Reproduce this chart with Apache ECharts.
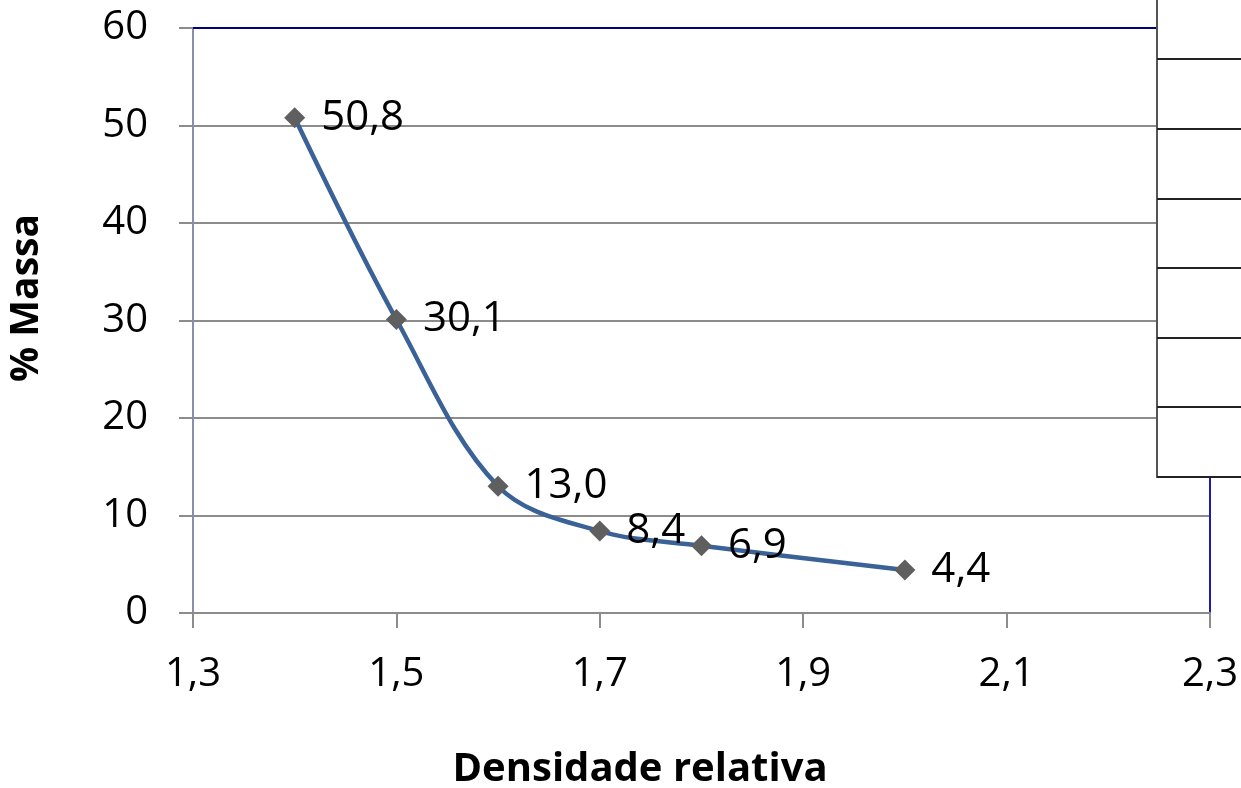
<!DOCTYPE html>
<html>
<head>
<meta charset="utf-8">
<script src="https://cdn.jsdelivr.net/npm/echarts@6/dist/echarts.min.js"></script>
<style>
  html, body { margin: 0; padding: 0; background: #fff; }
  #chart { width: 1241px; height: 788px; }
</style>
</head>
<body>
<div id="chart"></div>
<script>
// densidade relativa vs % massa
var densidade = [1.4, 1.5, 1.6, 1.7, 1.8, 2.0];
var massa = [50.8, 30.1, 13.0, 8.4, 6.9, 4.4];

var pontos = [];
for (var i = 0; i < densidade.length; i++) {
  pontos.push([densidade[i], massa[i]]);
}

function virgula(v, casas) {
  return v.toFixed(casas).replace('.', ',');
}

var chart = echarts.init(document.getElementById('chart'));
var fonte = '"Open Sans", "Noto Sans", sans-serif';

// caixa cortada no canto direito (tabela de legenda)
var linhasCaixa = [59, 129, 199, 268, 338, 407, 477];
var graficos = [{
  type: 'rect',
  shape: { x: 1157, y: -2, width: 90, height: 479 },
  style: { fill: '#ffffff', stroke: '#555555', lineWidth: 2 },
  z: 100
}];
linhasCaixa.forEach(function (y) {
  graficos.push({
    type: 'line',
    shape: { x1: 1157, y1: y, x2: 1241, y2: y },
    style: { stroke: '#222222', lineWidth: 2 },
    z: 101
  });
});
// titulos dos eixos
graficos.push({
  type: 'text',
  x: 640, y: 770,
  style: {
    text: 'Densidade relativa', fontFamily: fonte, fontSize: 40, fontWeight: 'bold',
    fill: '#000', align: 'center', verticalAlign: 'middle'
  }
});
graficos.push({
  type: 'text',
  x: 27, y: 298,
  rotation: Math.PI / 2,
  style: {
    text: '% Massa', fontFamily: fonte, fontSize: 39, fontWeight: 'bold',
    fill: '#000', align: 'center', verticalAlign: 'middle'
  }
});

var eixoSimples = function (pos, cor) {
  return {
    type: 'value', position: pos,
    axisLine: { show: true, onZero: false, lineStyle: { color: cor, width: 2 } },
    axisTick: { show: false }, axisLabel: { show: false }, splitLine: { show: false }
  };
};

var topo = eixoSimples('top', '#00007f');
topo.min = 1.3; topo.max = 2.3;
var direita = eixoSimples('right', '#1c1cb4');
direita.min = 0; direita.max = 60;

var option = {
  backgroundColor: '#ffffff',
  animation: false,
  grid: {
    left: 193,
    top: 28,
    right: 29,
    bottom: 175
  },
  xAxis: [{
    type: 'value',
    min: 1.3,
    max: 2.3,
    interval: 0.2,
    axisLine: { show: true, lineStyle: { color: '#8c8c8c', width: 2 } },
    axisTick: { show: true, length: 15, lineStyle: { color: '#8c8c8c', width: 2 } },
    axisLabel: {
      fontFamily: fonte, fontSize: 40, color: '#000', margin: 42,
      formatter: function (v) { return virgula(v, 1); }
    },
    splitLine: { show: false }
  }, topo],
  yAxis: [{
    type: 'value',
    min: 0,
    max: 60,
    interval: 10,
    axisLine: { show: true, lineStyle: { color: '#8c8cab', width: 2 } },
    axisTick: { show: true, length: 14, lineStyle: { color: '#8c8c8c', width: 2 } },
    axisLabel: { fontFamily: fonte, fontSize: 40, color: '#000', margin: 45 },
    splitLine: { show: true, lineStyle: { color: '#8c8c8c', width: 2 } }
  }, direita],
  series: [{
    type: 'line',
    data: pontos,
    smooth: 0.35,
    symbol: 'diamond',
    symbolSize: 21,
    itemStyle: { color: '#5f5f5f' },
    lineStyle: { color: '#3a6296', width: 4.5 },
    label: {
      show: true,
      position: 'right',
      distance: 16,
      fontFamily: fonte,
      fontSize: 42,
      color: '#000',
      formatter: function (p) { return virgula(p.value[1], 1); }
    },
    z: 5
  }],
  graphic: graficos
};

chart.setOption(option);
</script>
</body>
</html>
